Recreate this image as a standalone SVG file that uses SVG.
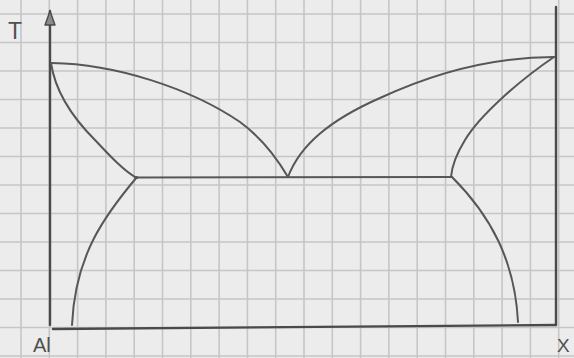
<svg xmlns="http://www.w3.org/2000/svg" width="574" height="358" viewBox="0 0 574 358">
<defs>
<style>
.grid line{stroke:#c6c6c6;stroke-width:1.6}
.axis{stroke:#4a4a4a;stroke-width:2.4;fill:none;stroke-linecap:round}
.curve{stroke:#575757;stroke-width:2;fill:none;stroke-linecap:round;stroke-linejoin:round}
.lbl{font-family:"Liberation Sans","DejaVu Sans",sans-serif;fill:#505050;font-weight:normal}
</style>
<marker id="arr" viewBox="0 0 16 12" refX="15" refY="6" markerWidth="16" markerHeight="12" markerUnits="userSpaceOnUse" orient="auto">
<path d="M1,1 L15,6 L1,11 Z" fill="#8a8a8a" stroke="#4a4a4a" stroke-width="1.4" stroke-linejoin="round"/>
</marker>
</defs>
<rect width="574" height="358" fill="#ececec"/>
<g class="grid" id="grid">
<line x1="21" y1="0" x2="21" y2="358"/>
<line x1="49.3" y1="0" x2="49.3" y2="358"/>
<line x1="77.6" y1="0" x2="77.6" y2="358"/>
<line x1="105.9" y1="0" x2="105.9" y2="358"/>
<line x1="134.2" y1="0" x2="134.2" y2="358"/>
<line x1="162.5" y1="0" x2="162.5" y2="358"/>
<line x1="190.8" y1="0" x2="190.8" y2="358"/>
<line x1="219.1" y1="0" x2="219.1" y2="358"/>
<line x1="247.4" y1="0" x2="247.4" y2="358"/>
<line x1="275.7" y1="0" x2="275.7" y2="358"/>
<line x1="304" y1="0" x2="304" y2="358"/>
<line x1="332.3" y1="0" x2="332.3" y2="358"/>
<line x1="360.6" y1="0" x2="360.6" y2="358"/>
<line x1="388.9" y1="0" x2="388.9" y2="358"/>
<line x1="417.2" y1="0" x2="417.2" y2="358"/>
<line x1="445.5" y1="0" x2="445.5" y2="358"/>
<line x1="473.8" y1="0" x2="473.8" y2="358"/>
<line x1="502.1" y1="0" x2="502.1" y2="358"/>
<line x1="530.4" y1="0" x2="530.4" y2="358"/>
<line x1="558.7" y1="0" x2="558.7" y2="358"/>
<line x1="0" y1="14" x2="574" y2="14"/>
<line x1="0" y1="42.5" x2="574" y2="42.5"/>
<line x1="0" y1="71" x2="574" y2="71"/>
<line x1="0" y1="99.5" x2="574" y2="99.5"/>
<line x1="0" y1="128" x2="574" y2="128"/>
<line x1="0" y1="156.5" x2="574" y2="156.5"/>
<line x1="0" y1="185" x2="574" y2="185"/>
<line x1="0" y1="213.5" x2="574" y2="213.5"/>
<line x1="0" y1="242" x2="574" y2="242"/>
<line x1="0" y1="270.5" x2="574" y2="270.5"/>
<line x1="0" y1="299" x2="574" y2="299"/>
<line x1="0" y1="327.5" x2="574" y2="327.5"/>
<line x1="0" y1="356" x2="574" y2="356"/>
</g>
<g id="axes">
<line class="axis" x1="50" y1="325" x2="50" y2="11" marker-end="url(#arr)"/>
<line class="axis" x1="556" y1="7" x2="556" y2="325"/>
<line class="axis" x1="53" y1="329" x2="556" y2="325"/>
</g>
<g id="curves">
<path class="curve" id="liquidus-left" d="M52,63 C115,64 190,88 240,122 C262,138 278,160 288,177"/>
<path class="curve" id="solidus-left" d="M51,63 C55,90 70,115 95,140 C110,156 125,172 137,178"/>
<path class="curve" id="eutectic" d="M135,177.5 L452,177"/>
<path class="curve" id="solvus-left" d="M137,177 C105,215 75,255 72,325"/>
<path class="curve" id="liquidus-right" d="M288,177 C300,145 330,120 380,98 C440,70 500,57 554,57"/>
<path class="curve" id="solidus-right" d="M554,57 C520,80 480,115 465,140 C457,153 452,165 451,177"/>
<path class="curve" id="solvus-right" d="M452,177 C490,215 515,260 518,322"/>
</g>
<g id="labels">
<text class="lbl" x="8" y="39" font-size="23">T</text>
<text class="lbl" x="33" y="352" font-size="20">Al</text>
<text class="lbl" x="557" y="352" font-size="19">X</text>
</g>
</svg>
